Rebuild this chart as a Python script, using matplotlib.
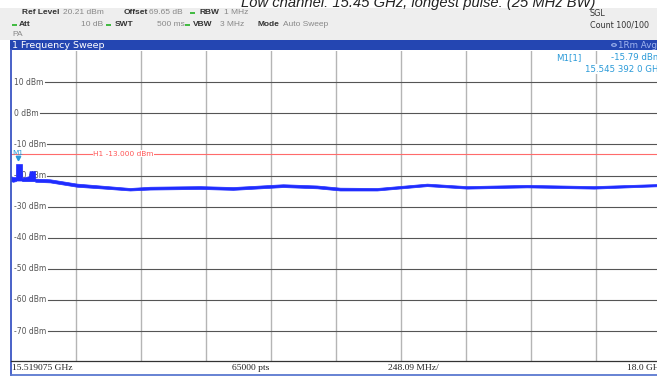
import matplotlib
matplotlib.use('Agg')
import matplotlib.pyplot as plt
from matplotlib.patches import Rectangle, Circle
from matplotlib.lines import Line2D

# ---------------- data ----------------
title = "Low channel: 15.45 GHz, longest pulse: (25 MHz BW)"
start_ghz = 15.519075
stop_ghz = 18.0
span_per_div_ghz = 0.24809
ref_level_dbm = 20.21
db_per_div = 10
n_div = 10
ytick_levels = [10, 0, -10, -20, -30, -40, -50, -60, -70]
ytick_labels = ["10 dBm", "0 dBm", "-10 dBm", "-20 dBm", "-30 dBm",
                "-40 dBm", "-50 dBm", "-60 dBm", "-70 dBm"]
h1_level_dbm = -13.0
h1_label = "H1 -13.000 dBm"
m1_freq_ghz = 15.5453920
m1_level_dbm = -15.79

trace_freq_ghz = [15.5191, 15.5267, 15.5363, 15.5375, 15.5382, 15.5611, 15.5620,
                  15.5630, 15.5878, 15.5890, 15.5897, 15.6107, 15.6115, 15.6126,
                  15.6679, 15.7710, 15.8588, 15.9733, 16.0496, 16.2405, 16.3664,
                  16.5573, 16.6870, 16.7748, 16.9160, 17.1069, 17.2595, 17.4885,
                  17.7443, 18.0000]
trace_max_dbm = [-20.2, -20.5, -20.5, -20.5, -16.3, -16.3, -20.7,
                 -20.7, -20.2, -20.2, -18.6, -18.6, -20.8, -21.0,
                 -21.2, -22.6, -23.2, -24.0, -23.6, -23.4, -23.7,
                 -22.8, -23.2, -23.9, -24.0, -22.6, -23.4, -23.0,
                 -23.4, -22.7]
trace_min_dbm = [-21.8, -22.0, -21.8, -21.8, -21.6, -21.6, -21.8,
                 -21.8, -21.8, -21.8, -21.8, -21.8, -22.0, -22.0,
                 -22.2, -23.6, -24.1, -24.8, -24.5, -24.3, -24.6,
                 -23.7, -24.1, -24.8, -24.8, -23.4, -24.2, -23.8,
                 -24.2, -23.4]

header_row1 = [("Ref Level", 22, True), ("20.21 dBm", 63, False), ("Offset", 124, True),
               ("69.65 dB", 149, False), ("RBW", 199, True), ("1 MHz", 224, False)]
header_row2 = [("Att", 19, True), ("10 dB", 81, False), ("SWT", 115, True),
               ("500 ms", 157, False), ("VBW", 193, True), ("3 MHz", 220, False),
               ("Mode", 257, True), ("Auto Sweep", 283, False)]
header_dots_row1 = [192]
header_dots_row2 = [14, 108, 187]

# ---------------- figure ----------------
W, H = 657, 378
fig = plt.figure(figsize=(W / 100, H / 100), dpi=100)
fig.patch.set_facecolor('white')

def fx(x):
    return x / W

def fy(y):
    return 1 - y / H

FONT = 'DejaVu Sans'
HFONT = 'Liberation Sans'

# header background
fig.patches.append(Rectangle((0, fy(40)), 1, fy(8) - fy(40), transform=fig.transFigure,
                             facecolor='#eeeeee', edgecolor='none', zorder=0))
# blue title bar
fig.patches.append(Rectangle((fx(10), fy(50)), 1, fy(40) - fy(50), transform=fig.transFigure,
                             facecolor='#2446b2', edgecolor='none', zorder=1))

# title (cut at top)
fig.text(fx(418), fy(6.5), title, ha='center', va='baseline', fontsize=10.6,
         style='italic', family='Liberation Sans', color='#222222', zorder=5)

# header texts
for row_y, row in ((13, header_row1), (25, header_row2)):
    for txt, x, bold in row:
        fig.text(fx(x), fy(row_y), txt, ha='left', va='center', fontsize=6.0, family=HFONT,
                 color='#333333' if bold else '#888888', weight='bold' if bold else 'normal')
for x in header_dots_row1:
    fig.patches.append(Rectangle((fx(x - 2.5), fy(14)), fx(5), fy(12) - fy(14),
                                 transform=fig.transFigure, facecolor='#44bb44', edgecolor='none'))
for x in header_dots_row2:
    fig.patches.append(Rectangle((fx(x - 2.5), fy(26)), fx(5), fy(24) - fy(26),
                                 transform=fig.transFigure, facecolor='#44bb44', edgecolor='none'))
fig.text(fx(12), fy(34), "PA", ha='left', va='center', fontsize=6.0, family=HFONT, color='#888888')
fig.text(fx(590), fy(13), "SGL", ha='left', va='center', fontsize=5.8, family=FONT, color='#333333')
fig.text(fx(590), fy(25), "Count 100/100", ha='left', va='center', fontsize=5.8, family=FONT, color='#333333')

# blue bar texts
fig.text(fx(12), fy(45), "1 Frequency Sweep", ha='left', va='center', fontsize=6.8,
         family=FONT, color='white')
fig.text(fx(618), fy(45), "1Rm Avg", ha='left', va='center', fontsize=6.3,
         family=FONT, color='#9fb4ee')
fig.patches.append(Circle((fx(614), fy(45)), 0.0035, transform=fig.transFigure,
                          facecolor='none', edgecolor='#9fb4ee', lw=0.8))

# ---------------- main plot axes ----------------
left_px, right_px = 11, 661
top_px, bottom_px = 50.5, 361.5
ax = fig.add_axes([fx(left_px), fy(bottom_px), (right_px - left_px) / W,
                   (bottom_px - top_px) / H])
ax.set_xlim(start_ghz, start_ghz + n_div * span_per_div_ghz)
ax.set_ylim(ref_level_dbm - n_div * db_per_div, ref_level_dbm)
for s in ax.spines.values():
    s.set_visible(False)
ax.set_xticks([])
ax.set_yticks([])
ax.set_facecolor('white')

# vertical grid
for i in range(1, n_div):
    ax.axvline(start_ghz + i * span_per_div_ghz, color='#b5b5b5', lw=1.0, zorder=1)

# y labels and horizontal grid starting after label
label_texts = []
for lev, lab in zip(ytick_levels, ytick_labels):
    t = ax.text(0.005, lev, lab, transform=ax.get_yaxis_transform(), ha='left',
                va='center', fontsize=5.5, family=FONT, color='#555555', zorder=4)
    label_texts.append((lev, t))
fig.canvas.draw()
inv = ax.transAxes.inverted()
for lev, t in label_texts:
    bb = t.get_window_extent()
    xstart = inv.transform((bb.x1 + 1, 0))[0]
    ax.axhline(lev, xmin=xstart, xmax=1, color='#555555', lw=0.8, zorder=2)

# H1 line
ax.axhline(h1_level_dbm, color='#ff6b6b', lw=0.8, zorder=3)
ax.text(start_ghz + (93 - left_px) / 650 * n_div * span_per_div_ghz, h1_level_dbm, h1_label,
        ha='left', va='center', fontsize=5.3, family=FONT, color='#ff5555', zorder=4,
        bbox=dict(facecolor='white', edgecolor='none', pad=0.3))

# trace
ax.fill_between(trace_freq_ghz, trace_min_dbm, trace_max_dbm, color='#1f2cff',
                edgecolor='#1f2cff', lw=0.5, zorder=5)

# marker M1
ax.plot([m1_freq_ghz], [m1_level_dbm + 1.3], marker='v', color='#2a9ad8', ms=3.2,
        linestyle='none', zorder=6)
ax.text(m1_freq_ghz, m1_level_dbm + 3.0, "M1", ha='center', va='center', fontsize=5.3,
        family=FONT, color='#2a9ad8', zorder=6)

# marker readout
fig.text(fx(556), fy(58), "M1[1]", ha='left', va='center', fontsize=6.2, family=FONT,
         color='#2a9ad8', zorder=6)
fig.text(fx(611), fy(58), "-15.79 dBm", ha='left', va='center', fontsize=6.2, family=FONT,
         color='#2a9ad8', zorder=6)
fig.text(fx(585), fy(69), "15.545 392 0 GHz", ha='left', va='center', fontsize=6.2,
         family=FONT, color='#2a9ad8', zorder=6,
         bbox=dict(facecolor='white', edgecolor='none', pad=0.5))

# borders
fig.add_artist(Line2D([fx(10.5), fx(10.5)], [fy(50), fy(374.5)], color='#3a55c4', lw=1.3))
fig.add_artist(Line2D([fx(10.5), 1], [fy(361), fy(361)], color='#333333', lw=0.9))
fig.add_artist(Line2D([fx(10.5), 1], [fy(374.5), fy(374.5)], color='#5a78d0', lw=1.3))

# bottom bar texts
for txt, x in (("15.519075 GHz", 12), ("65000 pts", 232), ("248.09 MHz/", 388), ("18.0 GHz", 627)):
    fig.text(fx(x), fy(367.5), txt, ha='left', va='center', fontsize=6.8,
             family='Liberation Serif', color='#222222')

fig.savefig('out.png', dpi=100)
